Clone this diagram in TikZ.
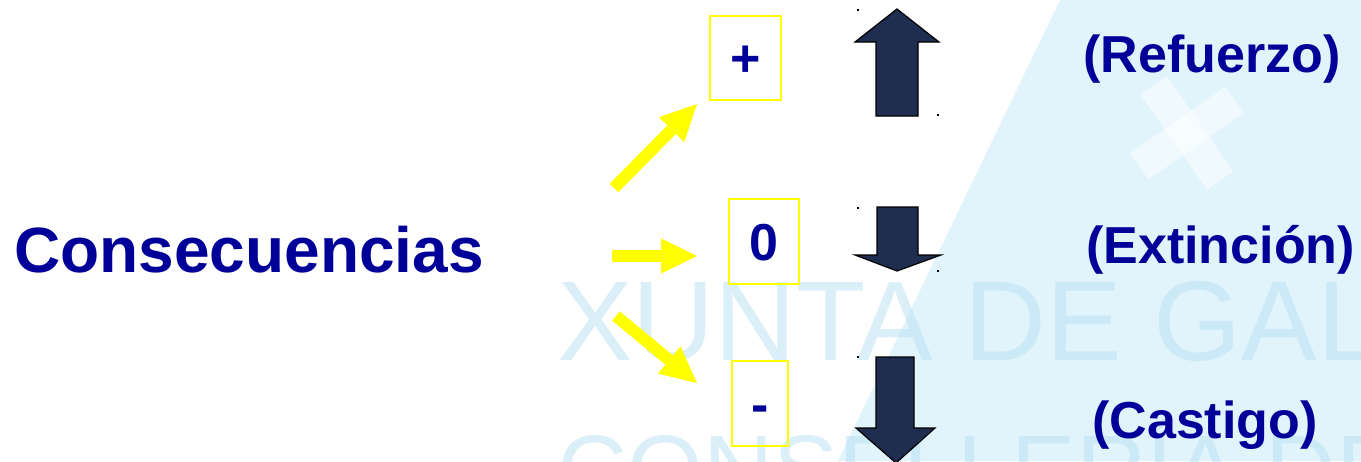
\documentclass[tikz,border=0pt]{standalone}
\usepackage{fontspec}
\setmainfont{Liberation Sans}
\usetikzlibrary{arrows.meta}
\definecolor{txtblue}{RGB}{0,0,153}
\definecolor{navy}{RGB}{31,45,80}
\definecolor{bgblue}{RGB}{226,244,251}
\definecolor{wmblue}{RGB}{175,220,240}
\definecolor{ylw}{RGB}{255,255,0}
\begin{document}
\begin{tikzpicture}[x=0.75pt,y=-0.75pt,
  lbl/.style={text=txtblue, font=\fontsize{39}{39}\selectfont\bfseries, inner sep=0pt, anchor=base west},
  bigl/.style={text=txtblue, font=\fontsize{48}{48}\selectfont\bfseries, inner sep=0pt, anchor=base west},
  wm/.style={text=wmblue, text opacity=0.45, inner sep=0pt, anchor=base west},
  sbox/.style={draw=ylw, line width=1.5pt, inner sep=0pt, text=txtblue,
    font=\fontsize{39}{39}\selectfont\bfseries, text height=28pt, text depth=0pt},
  yarrow/.style={draw=ylw, line width=9pt,
    -{Triangle[width=26.5pt,length=27pt,line width=0pt 0 0]}},
  darr/.style={draw=black, line width=0.9pt, fill=navy},
  dot/.style={fill=black}]
\fill[white] (0,0) rectangle (1361,461);
\useasboundingbox (0,0) rectangle (1361,461);
% background watermark
\begin{scope}
\clip (0,0) rectangle (1361,461);
\fill[bgblue] (1060,0) -- (1361,0) -- (1361,461) -- (838,461) -- cycle;
\begin{scope}[shift={(1187,133)}, rotate=35]
  \fill[white, opacity=0.5] (-58,-16) rectangle (58,16);
  \fill[white, opacity=0.5] (-16,-58) rectangle (16,58);
\end{scope}
\node[wm, font=\fontsize{85}{85}\selectfont] (wm1) at (557,360) {XUNTA DE GALICIA};
\node[wm, font=\fontsize{73}{73}\selectfont] (wm2) at (557,503) {CONSELLERÍA DE};
\end{scope}
% main label
\node[bigl] (cons) at (14,272) {Consecuencias};
% boxes
\node[sbox, minimum width=53.25pt, minimum height=63pt] (bplus) at (745.5,58) {+};
\node[sbox, minimum width=52.5pt, minimum height=63.75pt] (bzero) at (764,241.5) {0};
\node[sbox, minimum width=42pt, minimum height=63.75pt] (bminus) at (760,403.5) {-};
% yellow arrows
\coordinate (y1s) at (614,188); \coordinate (y1e) at (697,104);
\coordinate (y2s) at (612,256); \coordinate (y2e) at (697,256);
\coordinate (y3s) at (616,316); \coordinate (y3e) at (697,383);
\draw[yarrow] (y1s) -- (y1e);
\draw[yarrow] (y2s) -- (y2e);
\draw[yarrow] (y3s) -- (y3e);
% dark block arrows
\filldraw[darr] (876,116) -- (876,42) -- (855,42) -- (897,9) -- (939,42) -- (918,42) -- (918,116) -- cycle;
\filldraw[darr] (877,207) -- (877,255) -- (855,255) -- (897,271) -- (941,255) -- (918,255) -- (918,207) -- cycle;
\filldraw[darr] (876,357) -- (876,428) -- (856,428) -- (896,463) -- (935,428) -- (914,428) -- (914,357) -- cycle;
% tiny corner marks
\fill[dot] (857,9) rectangle (859,11);
\fill[dot] (937,114) rectangle (939,116);
\fill[dot] (857,207) rectangle (859,209);
\fill[dot] (937,270) rectangle (939,272);
\fill[dot] (857,356) rectangle (859,358);
% right labels
\node[lbl] (ref) at (1083,72) {(Refuerzo)};
\node[lbl] (ext) at (1086,263) {(Extinción)};
\node[lbl] (cas) at (1092,438) {(Castigo)};
\end{tikzpicture}
\end{document}
